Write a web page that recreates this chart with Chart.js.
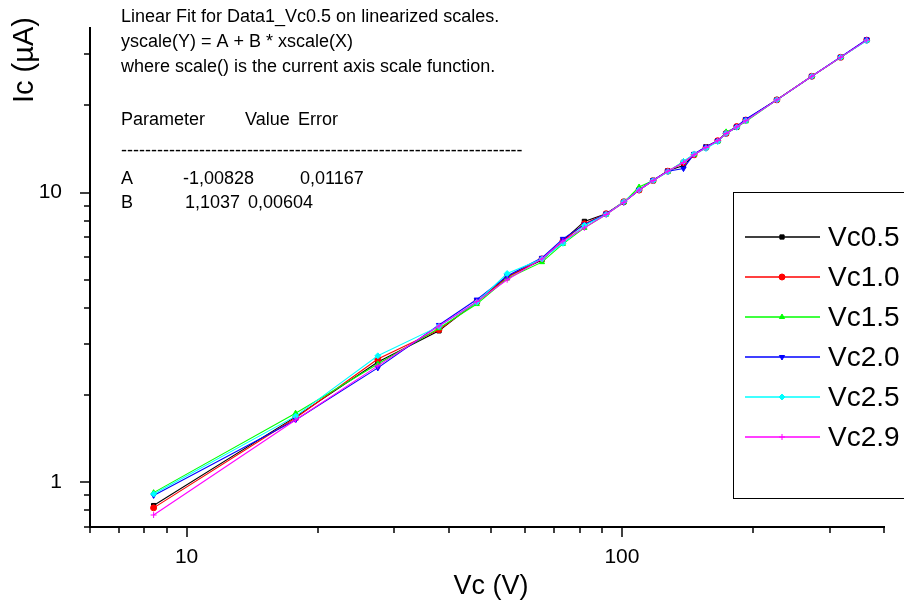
<!DOCTYPE html>
<html>
<head>
<meta charset="utf-8">
<script src="https://cdn.jsdelivr.net/npm/chart.js@4.4.0/dist/chart.umd.min.js"></script>
<style>
  html, body { margin: 0; padding: 0; background: #fff; }
  #wrap { width: 904px; height: 607px; }
</style>
</head>
<body>
<div id="wrap"><canvas id="ic-chart"></canvas></div>
<script>
// Напряжение Vc (ось X), В
const vcValues = [8.4, 17.8, 27.5, 38, 46.4, 54.5, 65.5, 73.2, 82, 92, 101, 109.5, 118, 127.5, 138.5, 146.5, 156, 166, 173.5, 183.5, 192.5, 227, 273, 318, 365];

// Ток Ic, мкА, для каждой серии
const icVc05 = [0.83, 1.68, 2.60, 3.33, 4.20, 5.12, 5.85, 6.82, 7.95, 8.44, 9.28, 10.2, 11.0, 11.9, 12.4, 13.5, 14.4, 15.1, 16.0, 16.8, 17.8, 20.9, 25.2, 29.3, 33.6];
const icVc10 = [0.815, 1.665, 2.66, 3.36, 4.18, 5.10, 5.90, 6.80, 7.80, 8.45, 9.30, 10.2, 11.0, 11.85, 12.7, 13.5, 14.3, 15.1, 16.0, 16.9, 17.8, 20.9, 25.2, 29.3, 33.6];
const icVc15 = [0.92, 1.73, 2.56, 3.40, 4.12, 5.05, 5.75, 6.65, 7.55, 8.40, 9.25, 10.45, 11.0, 11.8, 12.8, 13.5, 14.3, 15.0, 16.2, 16.8, 17.6, 20.9, 25.2, 29.3, 33.6];
const icVc20 = [0.90, 1.64, 2.48, 3.49, 4.27, 5.15, 5.95, 6.92, 7.75, 8.45, 9.25, 10.2, 11.05, 11.85, 12.1, 13.6, 14.4, 15.1, 16.0, 16.9, 17.9, 20.9, 25.2, 29.4, 33.8];
const icVc25 = [0.91, 1.69, 2.73, 3.45, 4.18, 5.25, 5.90, 6.68, 7.70, 8.40, 9.30, 10.2, 11.0, 11.8, 12.8, 13.6, 14.2, 15.0, 16.0, 16.8, 17.7, 20.9, 25.2, 29.3, 33.4];
const icVc29 = [0.77, 1.64, 2.52, 3.46, 4.20, 5.00, 5.90, 6.80, 7.55, 8.40, 9.25, 10.2, 11.0, 11.85, 12.7, 13.5, 14.3, 15.1, 16.0, 16.85, 17.7, 20.9, 25.2, 29.3, 33.6];

const seriesLabels = ['Vc0.5', 'Vc1.0', 'Vc1.5', 'Vc2.0', 'Vc2.5', 'Vc2.9'];
const seriesData = [icVc05, icVc10, icVc15, icVc20, icVc25, icVc29];
const seriesColors = ['#000000', '#ff0000', '#00ff00', '#0000ff', '#00ffff', '#ff00ff'];
const seriesMarkers = ['rect', 'circle', 'triangle', 'triangle', 'rectRot', 'cross'];
const seriesRotation = [0, 0, 0, 180, 0, 0];

// Деления осей
const xTicks = [6, 7, 8, 9, 10, 20, 30, 40, 50, 60, 70, 80, 90, 100, 200, 300, 400];
const xTickLabels = [10, 100];
const yTicks = [0.7, 0.8, 0.9, 1, 2, 3, 4, 5, 6, 7, 8, 9, 10, 20, 30];
const yTickLabels = [1, 10];

// Текст результатов подгонки
const fitLines = [
    'Linear Fit for Data1_Vc0.5 on linearized scales.',
    'yscale(Y) = A + B * xscale(X)',
    'where scale() is the current axis scale function.'
];
const fitHeader = ['Parameter', 'Value', 'Error'];
const fitRowA = ['A', '-1,00828', '0,01167'];
const fitRowB = ['B', '1,1037', '0,00604'];

const FONT = '"Liberation Sans", Arial, sans-serif';

/**
 * Рисует деления, подписи осей, текст подгонки и легенду
 */
const decorPlugin = {
    id: 'decor',
    afterDraw(chart) {
        const ctx = chart.ctx;
        const xs = chart.scales.x;
        const ys = chart.scales.y;
        ctx.save();

        // Деления
        ctx.strokeStyle = '#000';
        ctx.lineWidth = 1.5;
        xs.ticks.forEach(t => {
            const px = Math.round(xs.getPixelForValue(t.value));
            const len = xTickLabels.includes(t.value) ? 10 : 6;
            ctx.beginPath();
            ctx.moveTo(px, ys.bottom);
            ctx.lineTo(px, ys.bottom + len);
            ctx.stroke();
        });
        ys.ticks.forEach(t => {
            const py = Math.round(ys.getPixelForValue(t.value));
            const len = yTickLabels.includes(t.value) ? 10 : 6;
            ctx.beginPath();
            ctx.moveTo(xs.left, py);
            ctx.lineTo(xs.left - len, py);
            ctx.stroke();
        });

        // Подписи осей
        ctx.fillStyle = '#000';
        ctx.font = '27px ' + FONT;
        ctx.textAlign = 'center';
        ctx.textBaseline = 'middle';
        ctx.fillText('Vc (V)', 491, 587);
        ctx.save();
        ctx.translate(25, 60);
        ctx.rotate(-Math.PI / 2);
        ctx.font = '29px ' + FONT;
        ctx.fillText('Ic (\u00b5A)', 0, 0);
        ctx.restore();

        // Текст подгонки
        ctx.font = '18px ' + FONT;
        ctx.textAlign = 'left';
        ctx.fillText(fitLines[0], 121, 17);
        ctx.fillText(fitLines[1], 121, 42);
        ctx.fillText(fitLines[2], 121, 67);
        ctx.fillText(fitHeader[0], 121, 120);
        ctx.fillText(fitHeader[1], 245, 120);
        ctx.fillText(fitHeader[2], 298, 120);
        ctx.fillText('-'.repeat(67), 121, 151);
        ctx.fillText(fitRowA[0], 121, 179);
        ctx.fillText(fitRowA[1], 183, 179);
        ctx.fillText(fitRowA[2], 300, 179);
        ctx.fillText(fitRowB[0], 121, 203);
        ctx.fillText(fitRowB[1], 185, 203);
        ctx.fillText(fitRowB[2], 248, 203);

        // Легенда
        ctx.lineWidth = 1;
        ctx.strokeStyle = '#000';
        ctx.strokeRect(733.5, 192.5, 200, 306);
        ctx.font = '28px ' + FONT;
        seriesLabels.forEach((label, i) => {
            const ly = 237 + i * 40;
            ctx.strokeStyle = seriesColors[i];
            ctx.fillStyle = seriesColors[i];
            ctx.lineWidth = 1.5;
            ctx.beginPath();
            ctx.moveTo(745, ly);
            ctx.lineTo(820, ly);
            ctx.stroke();
            ctx.lineWidth = 1;
            Chart.helpers.drawPoint(ctx, {
                pointStyle: seriesMarkers[i],
                radius: 3,
                rotation: seriesRotation[i],
                borderWidth: 1
            }, 782, ly);
            ctx.fillStyle = '#000';
            ctx.fillText(label, 828, ly + 1);
        });

        ctx.restore();
    }
};

const datasets = seriesLabels.map((label, i) => ({
    label: label,
    data: vcValues.map((v, k) => ({ x: v, y: seriesData[i][k] })),
    borderColor: seriesColors[i],
    backgroundColor: seriesColors[i],
    borderWidth: 1.1,
    pointStyle: seriesMarkers[i],
    pointRotation: seriesRotation[i],
    pointRadius: 3,
    pointBorderWidth: 1,
    order: seriesLabels.length - i
}));

const icChart = new Chart(document.getElementById('ic-chart'), {
    type: 'line',
    data: { datasets: datasets },
    plugins: [decorPlugin],
    options: {
        responsive: true,
        maintainAspectRatio: false,
        animation: false,
        layout: { padding: { top: 28, right: 20, left: 0, bottom: 0 } },
        plugins: {
            legend: { display: false },
            tooltip: { enabled: false }
        },
        scales: {
            x: {
                type: 'logarithmic',
                min: 6,
                max: 400,
                afterBuildTicks: scale => {
                    scale.ticks = xTicks.map(v => ({ value: v }));
                },
                afterFit: scale => {
                    scale.height = 80;
                    scale.paddingLeft = 0;
                    scale.paddingRight = 0;
                },
                grid: { display: false },
                border: { display: true, color: '#000', width: 2 },
                ticks: {
                    autoSkip: false,
                    maxRotation: 0,
                    padding: 10,
                    color: '#000',
                    font: { family: FONT, size: 21 },
                    callback: value => xTickLabels.includes(value) ? String(value) : ''
                }
            },
            y: {
                type: 'logarithmic',
                min: 0.7,
                max: 37,
                afterBuildTicks: scale => {
                    scale.ticks = yTicks.map(v => ({ value: v }));
                },
                afterFit: scale => {
                    scale.width = 90;
                    scale.paddingTop = 0;
                    scale.paddingBottom = 0;
                },
                grid: { display: false },
                border: { display: true, color: '#000', width: 2 },
                ticks: {
                    autoSkip: false,
                    padding: 20,
                    color: '#000',
                    font: { family: FONT, size: 21 },
                    callback: value => yTickLabels.includes(value) ? String(value) : ''
                }
            }
        }
    }
});
</script>
</body>
</html>
